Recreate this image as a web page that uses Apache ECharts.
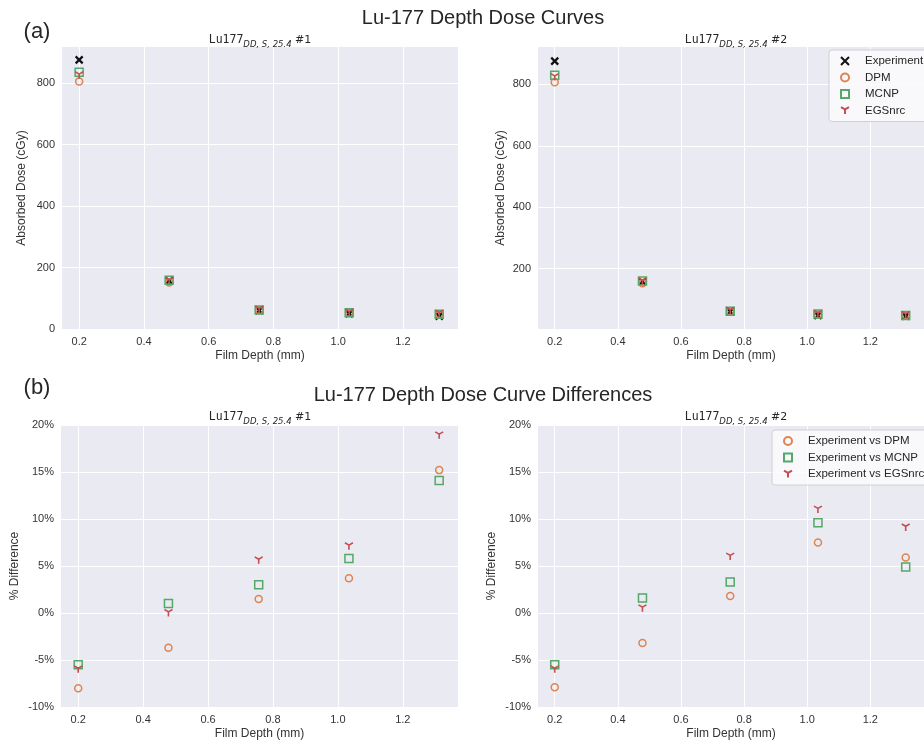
<!DOCTYPE html>
<html>
<head>
<meta charset="utf-8">
<script src="https://cdn.jsdelivr.net/npm/echarts@6/dist/echarts.min.js"></script>
<style>html,body{margin:0;padding:0;background:#fff;}#c{width:924px;height:742px;}</style>
</head>
<body>
<div id="c"></div>
<script>
// ---- data ----
const depth = [0.2, 0.478, 0.756, 1.034, 1.312];
const xTicks = [0.2, 0.4, 0.6, 0.8, 1.0, 1.2];
const doseTicks = [0, 200, 400, 600, 800];
const doseTicks2 = [200, 400, 600, 800];
const diffTicks = [-10, -5, 0, 5, 10, 15, 20];

const exp1 = [876, 157, 60, 50, 42];
const dpm1 = [806, 151, 61, 52, 48.4];
const mcnp1 = [836, 159, 62, 53, 48];
const egs1 = [826, 157, 63.5, 53.5, 50];

const exp2 = [876, 157, 59, 47, 45];
const dpm2 = [807, 152, 60, 50.5, 47.6];
const mcnp2 = [830, 159.5, 61, 51.5, 47.2];
const egs2 = [824, 158, 62.5, 52.2, 49.1];

const dDpm1 = [-8.0, -3.7, 1.5, 3.7, 15.2];
const dMcnp1 = [-5.5, 1.0, 3.0, 5.8, 14.1];
const dEgs1 = [-6.0, 0.0, 5.6, 7.1, 18.9];

const dDpm2 = [-7.9, -3.2, 1.8, 7.5, 5.9];
const dMcnp2 = [-5.5, 1.6, 3.3, 9.6, 4.9];
const dEgs2 = [-6.0, 0.5, 6.0, 11.0, 9.1];

// ---- styling ----
const FONT = 'Liberation Sans, Arial, sans-serif';
const TXT = '#333';
const C_DPM = '#DD8452', C_MCNP = '#55A868', C_EGS = '#C44E52', C_EXP = '#111';
const SYM = {
  exp: {symbol: 'path://M0,0L10,10M10,0L0,10', size: 7, color: C_EXP, bw: 2.2},
  dpm: {symbol: 'circle', size: 7, color: C_DPM, bw: 1.5},
  mcnp: {symbol: 'rect', size: 8, color: C_MCNP, bw: 1.5},
  egs: {symbol: 'path://M0,0L8.66,5L17.32,0M8.66,5L8.66,15', size: 8, color: C_EGS, bw: 1.6}
};

const grids = [
  {left: 62, top: 47, width: 396, height: 282},
  {left: 538, top: 47, width: 396, height: 282},
  {left: 61, top: 425, width: 397, height: 282},
  {left: 538, top: 425, width: 396, height: 282}
].map(g => Object.assign({show: true, backgroundColor: '#EAEAF2', borderWidth: 0}, g));

function xAx(gi) {
  return {
    type: 'value', gridIndex: gi, min: 0.147, max: 1.37,
    name: 'Film Depth (mm)', nameLocation: 'middle', nameGap: 21,
    nameTextStyle: {fontFamily: FONT, fontSize: 12, color: TXT},
    axisLine: {show: false},
    axisTick: {show: false, customValues: xTicks},
    axisLabel: {customValues: xTicks, fontFamily: FONT, fontSize: 11, color: TXT, margin: 7,
      formatter: v => Number(v).toFixed(1)},
    splitLine: {show: true, lineStyle: {color: '#fff', width: 1}}
  };
}
function yAx(gi, min, max, ticks, name, gap, fmt) {
  return {
    type: 'value', gridIndex: gi, min: min, max: max,
    name: name, nameLocation: 'middle', nameGap: gap, nameRotate: 90,
    nameTextStyle: {fontFamily: FONT, fontSize: 12, color: TXT},
    axisLine: {show: false},
    axisTick: {show: false, customValues: ticks},
    axisLabel: {customValues: ticks, fontFamily: FONT, fontSize: 11, color: TXT, margin: 7, formatter: fmt},
    splitLine: {show: true, lineStyle: {color: '#fff', width: 1}}
  };
}

function sc(name, vals, gi, key) {
  const s = SYM[key];
  return {
    type: 'scatter', name: name, xAxisIndex: gi, yAxisIndex: gi,
    data: depth.map((d, i) => [d, vals[i]]),
    symbol: s.symbol, symbolSize: s.size, symbolKeepAspect: true,
    itemStyle: {color: 'rgba(0,0,0,0)', borderColor: s.color, borderWidth: s.bw, opacity: 1},
    emphasis: {disabled: true}, silent: true
  };
}

const series = [
  sc('Experiment', exp1, 0, 'exp'), sc('DPM', dpm1, 0, 'dpm'), sc('MCNP', mcnp1, 0, 'mcnp'), sc('EGSnrc', egs1, 0, 'egs'),
  sc('Experiment', exp2, 1, 'exp'), sc('DPM', dpm2, 1, 'dpm'), sc('MCNP', mcnp2, 1, 'mcnp'), sc('EGSnrc', egs2, 1, 'egs'),
  sc('Experiment vs DPM', dDpm1, 2, 'dpm'), sc('Experiment vs MCNP', dMcnp1, 2, 'mcnp'), sc('Experiment vs EGSnrc', dEgs1, 2, 'egs'),
  sc('Experiment vs DPM', dDpm2, 3, 'dpm'), sc('Experiment vs MCNP', dMcnp2, 3, 'mcnp'), sc('Experiment vs EGSnrc', dEgs2, 3, 'egs')
];

function legend(names, left, top) {
  return {
    data: names, orient: 'vertical', left: left, top: top,
    padding: [5, 12, 5, 11], itemWidth: 8, itemHeight: 8, itemGap: 4.5,
    backgroundColor: 'rgba(252,252,254,0.85)', borderColor: '#cfcfd6', borderWidth: 1, borderRadius: 3,
    textStyle: {fontFamily: FONT, fontSize: 11.5, color: '#262626', lineHeight: 12, padding: [0, 0, 0, 11]},
    selectedMode: false
  };
}

function sub(x, y, num) {
  return {
    type: 'text', x: x, y: y,
    style: {
      text: '{m|Lu177}{s|DD, S, 25.4}{h| #' + num + '}',
      align: 'center', verticalAlign: 'middle', textAlign: 'center', textVerticalAlign: 'middle',
      rich: {
        m: {fontFamily: 'DejaVu Sans Mono', fontSize: 11.5, fill: '#262626', lineHeight: 18, verticalAlign: 'middle'},
        s: {fontFamily: 'DejaVu Sans', fontStyle: 'italic', fontSize: 8.5, fill: '#262626', verticalAlign: 'bottom', lineHeight: 18},
        h: {fontFamily: 'DejaVu Sans', fontSize: 11, fill: '#262626', lineHeight: 18, verticalAlign: 'middle'}
      }
    }
  };
}
function txt(x, y, t, size) {
  return {type: 'text', x: x, y: y,
    style: {text: t, font: size + 'px ' + FONT, fill: '#262626', align: 'center', verticalAlign: 'middle',
      textAlign: 'center', textVerticalAlign: 'middle'}};
}

const chart = echarts.init(document.getElementById('c'), null, {renderer: 'canvas'});
chart.setOption({
  backgroundColor: '#fff',
  animation: false,
  grid: grids,
  xAxis: [xAx(0), xAx(1), xAx(2), xAx(3)],
  yAxis: [
    yAx(0, 0, 918, doseTicks, 'Absorbed Dose (cGy)', 34, v => String(v)),
    yAx(1, 3, 922, doseTicks2, 'Absorbed Dose (cGy)', 31, v => String(v)),
    yAx(2, -10, 20, diffTicks, '% Difference', 40, v => v + '%'),
    yAx(3, -10, 20, diffTicks, '% Difference', 40, v => v + '%')
  ],
  legend: [
    legend(['Experiment', 'DPM', 'MCNP', 'EGSnrc'], 829, 50),
    legend(['Experiment vs DPM', 'Experiment vs MCNP', 'Experiment vs EGSnrc'], 772, 430)
  ],
  graphic: [
    txt(483, 18, 'Lu-177 Depth Dose Curves', 20),
    txt(483, 395, 'Lu-177 Depth Dose Curve Differences', 20),
    txt(37, 32, '(a)', 22),
    txt(37, 388, '(b)', 22),
    sub(260, 40, 1),
    sub(736, 40, 2),
    sub(260, 417, 1),
    sub(736, 417, 2)
  ],
  series: series
});
</script>
</body>
</html>
